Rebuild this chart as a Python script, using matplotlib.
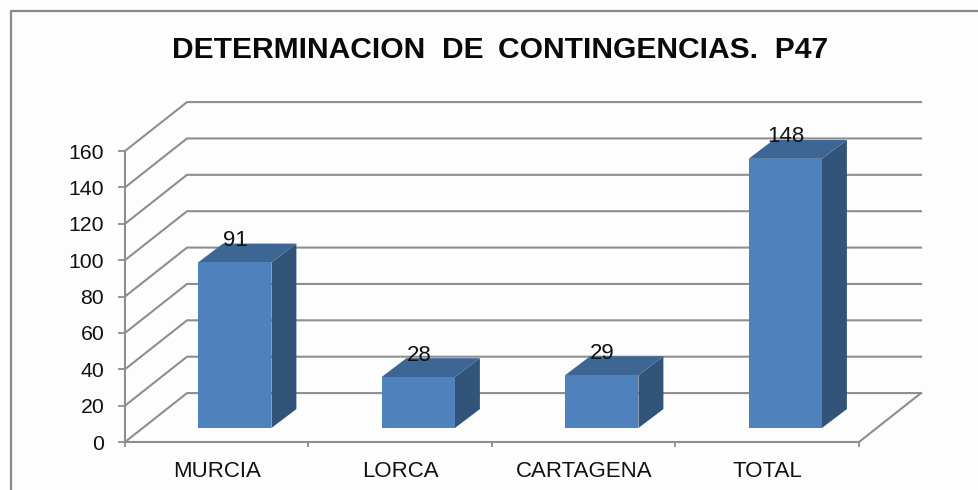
import matplotlib
matplotlib.use("Agg")
import matplotlib.pyplot as plt
from matplotlib.patches import Polygon
from matplotlib.lines import Line2D

categories = ["MURCIA", "LORCA", "CARTAGENA", "TOTAL"]
values = [91, 28, 29, 148]
y_ticks = [0, 20, 40, 60, 80, 100, 120, 140, 160]
title = "DETERMINACION  DE\u2009 CONTINGENCIAS.  P47"

W, H = 979, 490
GRID = "#8E8E8E"
FRONT = "#4F81BD"
TOP = "#3E6695"
SIDE = "#335479"
TEXT = "#111111"

plt.rcParams["font.family"] = ["Liberation Sans", "DejaVu Sans"]

fig = plt.figure(figsize=(W / 100, H / 100), dpi=100, facecolor="#FDFDFD")
# ejes = plano frontal del grafico 3D
ax = fig.add_axes([125 / W, 1 - 442 / H, (859 - 125) / W, (442 - 151) / H])
ax.set_xlim(-0.5, 3.5)
ax.set_ylim(0, 160)
ax.patch.set_alpha(0)

# desplazamiento de profundidad, en unidades de datos
wall_dx, wall_dy = 0.338, 26.9
bar_off_x, bar_off_y = 0.098, 7.7
bar_half = 0.2
bar_dx, bar_dy = 0.136, 10.4

# paredes
for t in y_ticks:
    ax.plot([-0.5, -0.5 + wall_dx, 3.5 + wall_dx], [t, t + wall_dy, t + wall_dy],
            color=GRID, lw=1.5, clip_on=False, zorder=1)
ax.plot([3.5, 3.5 + wall_dx], [0, wall_dy], color=GRID, lw=1.5, clip_on=False, zorder=1)

# barras
for i, v in enumerate(values):
    x0 = i - bar_half + bar_off_x
    x1 = i + bar_half + bar_off_x
    y0 = bar_off_y
    y1 = v + bar_off_y
    ax.add_patch(Polygon([(x1, y0), (x1 + bar_dx, y0 + bar_dy), (x1 + bar_dx, y1 + bar_dy), (x1, y1)],
                         closed=True, fc=SIDE, ec="none", clip_on=False, zorder=3))
    ax.add_patch(Polygon([(x0, y1), (x1, y1), (x1 + bar_dx, y1 + bar_dy), (x0 + bar_dx, y1 + bar_dy)],
                         closed=True, fc=TOP, ec="none", clip_on=False, zorder=3))
    ax.add_patch(Polygon([(x0, y0), (x1, y0), (x1, y1), (x0, y1)],
                         closed=True, fc=FRONT, ec="none", clip_on=False, zorder=3))
    ax.text(i + bar_off_x + 0.004, y1 + 12, str(v), ha="center", va="center", fontsize=16,
            color=TEXT, clip_on=False, zorder=4)

# ejes
for s in ["top", "right"]:
    ax.spines[s].set_visible(False)
for s in ["left", "bottom"]:
    ax.spines[s].set_color(GRID)
    ax.spines[s].set_linewidth(1.5)

ax.set_yticks(y_ticks)
ax.set_xticks([-0.5, 0.5, 1.5, 2.5, 3.5])
ax.set_xticklabels([])
ax.set_xticks(range(len(categories)), categories, minor=True)
ax.tick_params(axis="x", which="minor", length=0, labelsize=16, pad=14, labelcolor=TEXT)
ax.tick_params(axis="x", which="major", length=3.6, width=1.3, color=GRID)
ax.tick_params(axis="y", length=5, width=1.3, color=GRID, labelsize=15.3, pad=10, labelcolor=TEXT)

fig.text(500 / W, 1 - 50 / H, title, ha="center", va="center", fontsize=21.6,
         fontweight="bold", color="#0A0A0A")

# borde del area del grafico
fig.add_artist(Line2D([10.5 / W, 10.5 / W, 1], [0, 1 - 11 / H, 1 - 11 / H],
                      color="#8A8A8A", lw=1.6))

fig.savefig("out.png", dpi=100, facecolor=fig.get_facecolor())
